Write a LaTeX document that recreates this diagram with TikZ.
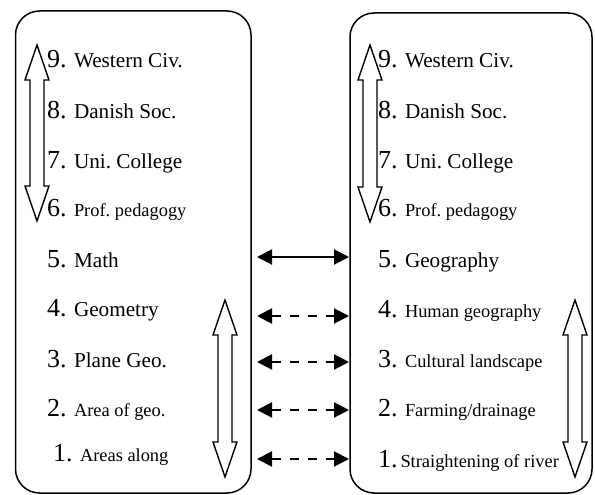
\documentclass[tikz,border=0pt]{standalone}
\usepackage{fontspec}
\setmainfont{Liberation Serif}
\usetikzlibrary{arrows.meta}
\frenchspacing
\newcommand\numf{\fontsize{26}{26}\selectfont}
\newcommand\bigf{\fontsize{21.2}{21.2}\selectfont}
\newcommand\smallf{\fontsize{18.4}{18.4}\selectfont}
\newcommand\gap{\hspace{7.5pt}}
\newcommand\hollowarrow[4]{% name, cx, top, bottom
  \draw[hollow] (#2,#3) coordinate (#1-top) -- ({#2+12},{#3+35}) -- ({#2+7},{#3+35}) -- ({#2+7},{#4-35})
    -- ({#2+12},{#4-35}) -- (#2,#4) coordinate (#1-bot) -- ({#2-12},{#4-35}) -- ({#2-7},{#4-35})
    -- ({#2-7},{#3+35}) -- ({#2-12},{#3+35}) -- cycle;}
\begin{document}
\begin{tikzpicture}[x=1pt,y=-1pt,
  box/.style={draw,line width=1.5pt,rounded corners=24pt},
  hollow/.style={draw,line width=1.4pt,fill=white,line join=miter},
  lbl/.style={anchor=base west,inner sep=0pt,outer sep=0pt},
  link/.style={line width=2pt,{Triangle[length=15pt,width=15pt]}-{Triangle[length=15pt,width=15pt]}},
  dlink/.style={link,dash pattern=on 9pt off 9pt}]
\useasboundingbox (0,0) rectangle (595,495);
\draw[box] (15.5,11) rectangle (251,493);
\draw[box] (350,13) rectangle (592,493);
% left box labels
\node[lbl] (l9) at (47,68) {\numf 9.\gap\bigf Western Civ.};
\node[lbl] (l8) at (47,118) {\numf 8.\gap\bigf Danish Soc.};
\node[lbl] (l7) at (47,168) {\numf 7.\gap\bigf Uni. College};
\node[lbl] (l6) at (47,216) {\numf 6.\gap\smallf Prof. pedagogy};
\node[lbl] (l5) at (47,267) {\numf 5.\gap\bigf Math};
\node[lbl] (l4) at (47,316) {\numf 4.\gap\bigf Geometry};
\node[lbl] (l3) at (47,367) {\numf 3.\gap\bigf Plane Geo.};
\node[lbl] (l2) at (47,416) {\numf 2.\gap\smallf Area of geo.};
\node[lbl] (l1) at (53,461) {\numf 1.\gap\smallf Areas along};
% right box labels
\node[lbl] (r9) at (378,68) {\numf 9.\gap\bigf Western Civ.};
\node[lbl] (r8) at (378,118) {\numf 8.\gap\bigf Danish Soc.};
\node[lbl] (r7) at (378,168) {\numf 7.\gap\bigf Uni. College};
\node[lbl] (r6) at (378,216) {\numf 6.\gap\smallf Prof. pedagogy};
\node[lbl] (r5) at (378,267) {\numf 5.\gap\bigf Geography};
\node[lbl] (r4) at (378,317) {\numf 4.\gap\smallf Human geography};
\node[lbl] (r3) at (378,367) {\numf 3.\gap\smallf Cultural landscape};
\node[lbl] (r2) at (378,416) {\numf 2.\gap\smallf Farming/drainage};
\node[lbl] (r1) at (378,467) {\numf 1.\hspace{3pt}\smallf Straightening of river};
% hollow double arrows
\hollowarrow{lu}{37}{45}{221}
\hollowarrow{ru}{370}{45}{222}
\hollowarrow{ll}{225}{300}{477}
\hollowarrow{rl}{575}{300}{477}
% connectors between boxes
\coordinate (a5) at (257,257); \coordinate (b5) at (349,257);
\coordinate (a4) at (257,316); \coordinate (b4) at (349,316);
\coordinate (a3) at (257,362); \coordinate (b3) at (349,362);
\coordinate (a2) at (257,410); \coordinate (b2) at (349,410);
\coordinate (a1) at (257,459); \coordinate (b1) at (349,459);
\draw[link] (a5) -- (b5);
\draw[dlink] (a4) -- (b4);
\draw[dlink] (a3) -- (b3);
\draw[dlink] (a2) -- (b2);
\draw[dlink] (a1) -- (b1);
\end{tikzpicture}
\end{document}
